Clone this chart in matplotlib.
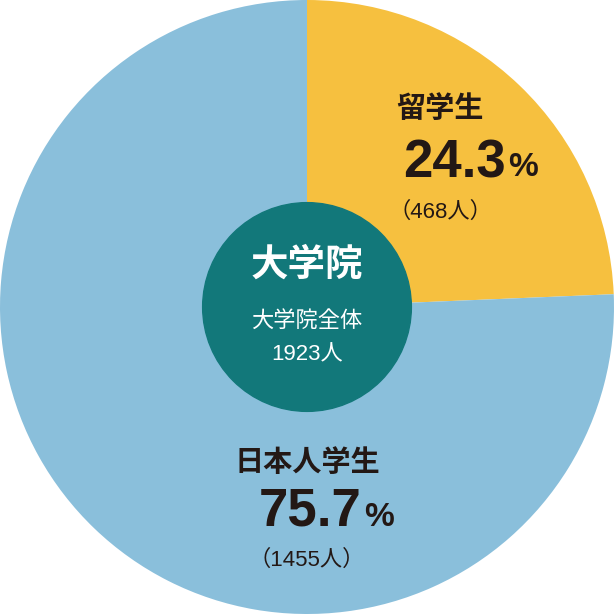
import matplotlib.pyplot as plt
from matplotlib.patches import Circle

plt.rcParams['font.family'] = ['Noto Sans CJK JP', 'DejaVu Sans']
num_font = ['Liberation Sans', 'Noto Sans CJK JP']

labels = ['留学生', '日本人学生']
counts = [468, 1455]
shares = ['24.3', '75.7']
total = 1923
colors = ['#F6C03F', '#8ABFDB']

fig = plt.figure(figsize=(6.14, 6.14), dpi=100)
ax = fig.add_axes([0, 0, 1, 1])
ax.pie(counts, colors=colors, startangle=90, counterclock=False,
       radius=1.0, center=(0, 0))
ax.add_patch(Circle((0, 0), 0.34, color='#12787A', zorder=3))
ax.set_xlim(-1.0, 1.0)
ax.set_ylim(-1.0, 1.0)
ax.set_aspect('equal')
ax.axis('off')

def px(x, y):
    return (x - 307) / 307, (307 - y) / 307

dark = '#231815'
# 留学生
ax.text(*px(440, 108), labels[0], ha='center', va='center', fontsize=21, fontweight='bold', color=dark)
ax.text(*px(506, 163), shares[0], ha='right', va='center', fontsize=38, fontweight='bold', color=dark, family=num_font)
ax.text(*px(508, 168), '%', ha='left', va='center', fontsize=24, fontweight='bold', color=dark, family=num_font)
ax.text(*px(440, 212), '（%d人）' % counts[0], ha='center', va='center', fontsize=16, color=dark, family=num_font)

# 日本人学生
ax.text(*px(307, 462), labels[1], ha='center', va='center', fontsize=21, fontweight='bold', color=dark)
ax.text(*px(362, 512), shares[1], ha='right', va='center', fontsize=38, fontweight='bold', color=dark, family=num_font)
ax.text(*px(364, 517), '%', ha='left', va='center', fontsize=24, fontweight='bold', color=dark, family=num_font)
ax.text(*px(307, 560), '（%d人）' % counts[1], ha='center', va='center', fontsize=16, color=dark, family=num_font)

# center
ax.text(*px(307, 264), '大学院', ha='center', va='center', fontsize=27, fontweight='bold', color='white', zorder=4)
ax.text(*px(307, 320), '大学院全体', ha='center', va='center', fontsize=16, color='white', zorder=4)
ax.text(*px(307, 355), '%d人' % total, ha='center', va='center', fontsize=16, color='white', zorder=4, family=num_font)

fig.savefig('out.png', dpi=100)
